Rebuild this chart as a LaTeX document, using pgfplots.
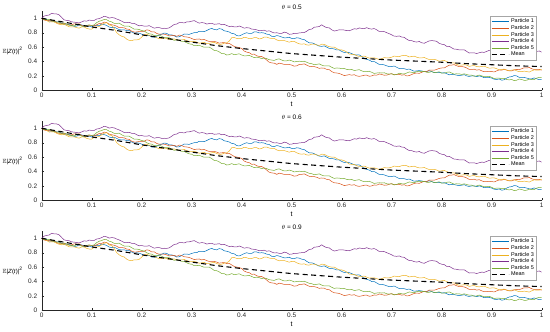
\documentclass[border=0pt]{standalone}
\usepackage{fontspec}
\setmainfont{Liberation Sans}
\usepackage{amssymb}
\usepackage{pgfplots}
\usepackage{pgfplotstable}
\pgfplotsset{compat=1.18}
\definecolor{c1}{rgb}{0,0.447,0.741}
\definecolor{c2}{rgb}{0.85,0.325,0.098}
\definecolor{c3}{rgb}{0.929,0.694,0.125}
\definecolor{c4}{rgb}{0.494,0.184,0.556}
\definecolor{c5}{rgb}{0.466,0.674,0.188}
\definecolor{axgray}{rgb}{0.15,0.15,0.15}

\pgfplotstableread{
t p1 p2 p3 p4 p5
0.000 1.00 1.00 1.00 1.00 1.00
0.005 1.000 0.975 0.991 1.031 0.983
0.010 0.98 0.97 0.97 1.04 0.98
0.015 0.962 0.973 0.948 1.046 0.985
0.020 0.96 0.96 0.95 1.07 0.97
0.025 0.960 0.962 0.949 1.061 0.949
0.030 0.95 0.94 0.93 1.06 0.95
0.035 0.950 0.929 0.916 1.048 0.944
0.040 0.93 0.93 0.91 1.01 0.93
0.045 0.915 0.929 0.916 0.978 0.934
0.050 0.92 0.92 0.90 0.97 0.92
0.055 0.913 0.905 0.883 0.966 0.905
0.060 0.90 0.91 0.88 0.95 0.90
0.065 0.889 0.923 0.881 0.947 0.895
0.070 0.89 0.92 0.87 0.94 0.91
0.075 0.912 0.922 0.863 0.937 0.912
0.080 0.91 0.90 0.88 0.95 0.89
0.085 0.892 0.889 0.879 0.965 0.888
0.090 0.89 0.89 0.86 0.96 0.90
0.095 0.890 0.899 0.851 0.976 0.910
0.100 0.88 0.90 0.85 0.97 0.90
0.105 0.900 0.895 0.876 0.971 0.909
0.110 0.90 0.91 0.88 0.99 0.94
0.115 0.900 0.928 0.888 0.996 0.959
0.120 0.92 0.93 0.91 1.01 0.97
0.125 0.913 0.947 0.931 1.028 0.984
0.130 0.90 0.94 0.94 1.02 0.98
0.135 0.879 0.919 0.908 1.003 0.960
0.140 0.87 0.91 0.90 1.01 0.95
0.145 0.877 0.904 0.859 1.006 0.930
0.150 0.86 0.89 0.80 0.99 0.93
0.155 0.842 0.870 0.771 0.977 0.932
0.160 0.84 0.87 0.75 0.96 0.91
0.165 0.840 0.868 0.741 0.942 0.893
0.170 0.83 0.85 0.71 0.94 0.89
0.175 0.830 0.847 0.693 0.945 0.890
0.180 0.81 0.82 0.69 0.93 0.87
0.185 0.795 0.809 0.701 0.931 0.849
0.190 0.80 0.81 0.70 0.91 0.85
0.195 0.793 0.819 0.708 0.896 0.844
0.200 0.78 0.82 0.74 0.90 0.83
0.205 0.764 0.820 0.769 0.891 0.824
0.210 0.76 0.84 0.78 0.89 0.80
0.215 0.762 0.833 0.761 0.898 0.785
0.220 0.74 0.81 0.75 0.88 0.78
0.225 0.737 0.812 0.751 0.863 0.760
0.230 0.75 0.79 0.73 0.87 0.76
0.235 0.770 0.779 0.718 0.871 0.767
0.240 0.78 0.78 0.72 0.86 0.75
0.245 0.795 0.779 0.726 0.862 0.733
0.250 0.79 0.77 0.72 0.86 0.73
0.255 0.770 0.755 0.703 0.867 0.730
0.260 0.77 0.76 0.71 0.89 0.71
0.265 0.758 0.763 0.714 0.915 0.694
0.270 0.74 0.75 0.70 0.92 0.70
0.275 0.744 0.767 0.696 0.941 0.694
0.280 0.76 0.76 0.70 0.94 0.68
0.285 0.782 0.744 0.706 0.936 0.679
0.290 0.78 0.74 0.69 0.95 0.66
0.295 0.777 0.734 0.678 0.951 0.645
0.300 0.79 0.72 0.68 0.96 0.64
0.305 0.800 0.705 0.681 0.968 0.620
0.310 0.80 0.71 0.67 0.95 0.62
0.315 0.820 0.713 0.653 0.933 0.627
0.320 0.82 0.70 0.66 0.94 0.61
0.325 0.815 0.707 0.664 0.936 0.598
0.330 0.83 0.69 0.65 0.92 0.60
0.335 0.848 0.679 0.651 0.927 0.600
0.340 0.86 0.68 0.66 0.93 0.58
0.345 0.844 0.679 0.666 0.917 0.554
0.350 0.84 0.67 0.65 0.92 0.55
0.355 0.857 0.655 0.638 0.925 0.534
0.360 0.85 0.66 0.64 0.91 0.51
0.365 0.827 0.663 0.656 0.916 0.509
0.370 0.82 0.65 0.66 0.90 0.49
0.375 0.810 0.652 0.683 0.886 0.495
0.380 0.79 0.63 0.73 0.89 0.51
0.385 0.785 0.609 0.734 0.881 0.495
0.390 0.76 0.60 0.72 0.88 0.50
0.395 0.755 0.594 0.716 0.893 0.507
0.400 0.77 0.58 0.72 0.88 0.49
0.405 0.788 0.545 0.736 0.863 0.478
0.410 0.80 0.53 0.73 0.87 0.48
0.415 0.789 0.523 0.718 0.866 0.485
0.420 0.79 0.50 0.72 0.85 0.47
0.425 0.812 0.502 0.731 0.847 0.454
0.430 0.81 0.48 0.73 0.84 0.46
0.435 0.797 0.469 0.713 0.827 0.454
0.440 0.80 0.47 0.72 0.83 0.44
0.445 0.795 0.449 0.739 0.835 0.449
0.450 0.78 0.42 0.74 0.82 0.44
0.455 0.775 0.390 0.726 0.826 0.425
0.460 0.75 0.38 0.72 0.81 0.42
0.465 0.745 0.378 0.721 0.796 0.415
0.470 0.76 0.36 0.70 0.80 0.43
0.475 0.753 0.377 0.688 0.791 0.437
0.480 0.74 0.37 0.69 0.79 0.42
0.485 0.729 0.359 0.691 0.808 0.408
0.490 0.73 0.36 0.68 0.80 0.41
0.495 0.737 0.359 0.668 0.778 0.420
0.500 0.72 0.35 0.68 0.78 0.41
0.505 0.717 0.335 0.679 0.791 0.394
0.510 0.73 0.34 0.66 0.79 0.40
0.515 0.725 0.358 0.646 0.797 0.404
0.520 0.71 0.36 0.64 0.80 0.40
0.525 0.705 0.367 0.646 0.802 0.404
0.530 0.68 0.35 0.63 0.82 0.39
0.535 0.660 0.334 0.628 0.845 0.375
0.540 0.66 0.33 0.64 0.85 0.37
0.545 0.648 0.329 0.641 0.876 0.355
0.550 0.63 0.32 0.63 0.88 0.36
0.555 0.614 0.305 0.623 0.886 0.367
0.560 0.61 0.31 0.64 0.91 0.35
0.565 0.617 0.308 0.639 0.886 0.338
0.570 0.60 0.29 0.62 0.87 0.34
0.575 0.582 0.287 0.606 0.868 0.340
0.580 0.58 0.26 0.60 0.84 0.32
0.585 0.575 0.244 0.601 0.823 0.304
0.590 0.56 0.24 0.58 0.83 0.31
0.595 0.560 0.234 0.563 0.841 0.309
0.600 0.54 0.22 0.56 0.84 0.30
0.605 0.525 0.205 0.551 0.837 0.304
0.610 0.53 0.21 0.53 0.83 0.29
0.615 0.523 0.218 0.503 0.827 0.285
0.620 0.51 0.21 0.50 0.84 0.29
0.625 0.494 0.217 0.499 0.855 0.275
0.630 0.49 0.20 0.48 0.85 0.28
0.635 0.492 0.194 0.471 0.866 0.287
0.640 0.47 0.20 0.47 0.86 0.27
0.645 0.442 0.209 0.476 0.856 0.258
0.650 0.43 0.21 0.46 0.87 0.26
0.655 0.420 0.195 0.448 0.856 0.265
0.660 0.40 0.20 0.45 0.85 0.25
0.665 0.400 0.213 0.451 0.858 0.234
0.670 0.38 0.21 0.44 0.84 0.24
0.675 0.360 0.227 0.428 0.818 0.244
0.680 0.36 0.22 0.44 0.82 0.24
0.685 0.353 0.209 0.454 0.816 0.244
0.690 0.34 0.21 0.45 0.80 0.23
0.695 0.329 0.224 0.451 0.787 0.225
0.700 0.33 0.23 0.46 0.77 0.23
0.705 0.337 0.215 0.476 0.752 0.215
0.710 0.32 0.22 0.47 0.75 0.22
0.715 0.302 0.223 0.468 0.755 0.237
0.720 0.30 0.21 0.48 0.74 0.23
0.725 0.300 0.217 0.486 0.736 0.228
0.730 0.29 0.20 0.48 0.71 0.24
0.735 0.295 0.204 0.463 0.691 0.255
0.740 0.28 0.22 0.47 0.69 0.25
0.745 0.265 0.234 0.474 0.676 0.244
0.750 0.27 0.24 0.46 0.67 0.26
0.755 0.273 0.235 0.451 0.678 0.264
0.760 0.27 0.25 0.45 0.66 0.26
0.765 0.259 0.263 0.456 0.653 0.264
0.770 0.26 0.26 0.44 0.67 0.25
0.775 0.272 0.282 0.428 0.686 0.250
0.780 0.26 0.28 0.43 0.69 0.26
0.785 0.247 0.279 0.431 0.687 0.245
0.790 0.25 0.29 0.42 0.68 0.25
0.795 0.250 0.304 0.403 0.652 0.257
0.800 0.24 0.31 0.41 0.64 0.24
0.805 0.245 0.310 0.414 0.635 0.238
0.810 0.23 0.33 0.40 0.61 0.25
0.815 0.215 0.348 0.386 0.611 0.255
0.820 0.22 0.35 0.38 0.59 0.24
0.825 0.218 0.357 0.381 0.571 0.224
0.830 0.21 0.34 0.36 0.57 0.23
0.835 0.204 0.329 0.348 0.561 0.229
0.840 0.21 0.33 0.35 0.56 0.22
0.845 0.217 0.324 0.356 0.563 0.229
0.850 0.20 0.31 0.35 0.54 0.22
0.855 0.192 0.290 0.333 0.518 0.210
0.860 0.20 0.29 0.34 0.52 0.21
0.865 0.200 0.293 0.344 0.521 0.195
0.870 0.19 0.28 0.33 0.51 0.20
0.875 0.200 0.287 0.326 0.522 0.212
0.880 0.19 0.27 0.33 0.53 0.20
0.885 0.175 0.259 0.336 0.527 0.188
0.890 0.18 0.26 0.32 0.54 0.19
0.895 0.178 0.264 0.308 0.555 0.195
0.900 0.17 0.26 0.31 0.55 0.18
0.905 0.154 0.255 0.311 0.556 0.164
0.910 0.15 0.27 0.30 0.54 0.17
0.915 0.157 0.283 0.283 0.536 0.169
0.920 0.14 0.28 0.29 0.55 0.16
0.925 0.147 0.292 0.294 0.551 0.164
0.930 0.17 0.28 0.28 0.56 0.15
0.935 0.185 0.269 0.276 0.568 0.145
0.940 0.19 0.27 0.28 0.55 0.15
0.945 0.205 0.284 0.286 0.543 0.135
0.950 0.20 0.29 0.27 0.56 0.14
0.955 0.180 0.285 0.258 0.561 0.157
0.960 0.18 0.30 0.26 0.55 0.15
0.965 0.178 0.313 0.266 0.557 0.138
0.970 0.17 0.31 0.26 0.56 0.14
0.975 0.159 0.317 0.253 0.547 0.155
0.980 0.16 0.30 0.27 0.55 0.15
0.985 0.172 0.289 0.284 0.555 0.149
0.990 0.16 0.29 0.28 0.54 0.17
0.995 0.147 0.289 0.281 0.546 0.179
1.000 0.15 0.28 0.29 0.53 0.18
}\particles

\pgfplotstableread{
t m
0.00 1.000
0.05 0.940
0.10 0.880
0.15 0.830
0.20 0.770
0.25 0.720
0.30 0.670
0.35 0.620
0.40 0.580
0.45 0.545
0.50 0.510
0.55 0.485
0.60 0.460
0.65 0.440
0.70 0.420
0.75 0.405
0.80 0.390
0.85 0.370
0.90 0.355
0.95 0.340
1.00 0.330
}\meantab

\pgfplotsset{panel/.style={
  scale only axis, width=500bp, height=79.2bp,
  xmin=0, xmax=1, ymin=0, ymax=1.1,
  axis x line=bottom, axis y line=left,
  axis line style={-, draw=axgray, line width=0.4pt},
  tick style={draw=axgray, line width=0.4pt},
  tick align=inside, major tick length=2.5bp,
  xtick={0,0.1,0.2,0.3,0.4,0.5,0.6,0.7,0.8,0.9,1},
  ytick={0,0.2,0.4,0.6,0.8,1},
  /pgf/number format/assume math mode=true,
  ticklabel style={font=\fontsize{6.5}{7}\selectfont, text=axgray},
  xticklabel style={yshift=0.5bp},
  yticklabel style={xshift=-1bp},
  xlabel={t}, xlabel style={font=\fontsize{7}{8}\selectfont, yshift=2.5bp},
  ylabel={$\mathbb{E}$|\textit{Z}(\textit{t})|\textsuperscript{2}},
  ylabel style={rotate=-90, at={(axis description cs:0,0.5)}, anchor=east, xshift=-15.5bp, font=\fontsize{6}{7}\selectfont},
  every axis title shift=0pt,
  title style={at={(axis description cs:0.5,1)}, anchor=south, inner sep=1bp, yshift=0bp, font=\fontsize{6.5}{7}\selectfont},
  legend style={at={(1,1)}, anchor=north east, xshift=-5bp, yshift=-5bp,
    font=\fontsize{5.5}{6}\selectfont, draw=gray!70, inner sep=0.6pt,
    row sep=-2.8pt, line width=0.4pt},
  legend cell align=left,
  every axis plot/.append style={line width=0.5pt},
}}

\newcommand{\panelplots}{%
  \addplot[c1] table[x=t,y=p1]{\particles};
  \addplot[c2] table[x=t,y=p2]{\particles};
  \addplot[c3] table[x=t,y=p3]{\particles};
  \addplot[c4] table[x=t,y=p4]{\particles};
  \addplot[c5] table[x=t,y=p5]{\particles};
  \addplot[black, line width=1.1pt, dash pattern=on 5bp off 3.5bp] table[x=t,y=m]{\meantab};
  \legend{Particle 1,Particle 2,Particle 3,Particle 4,Particle 5,Mean}%
}

\begin{document}
\begin{tikzpicture}
\useasboundingbox (0,0) rectangle (550bp,-332bp);
\begin{axis}[panel, at={(41.7bp,-90.3bp)}, anchor=south west, title={$\theta$ = 0.5}]
\panelplots
\end{axis}
\begin{axis}[panel, at={(41.7bp,-200.3bp)}, anchor=south west, title={$\theta$ = 0.6}]
\panelplots
\end{axis}
\begin{axis}[panel, at={(41.7bp,-310.3bp)}, anchor=south west, title={$\theta$ = 0.9}]
\panelplots
\end{axis}
\end{tikzpicture}
\end{document}
